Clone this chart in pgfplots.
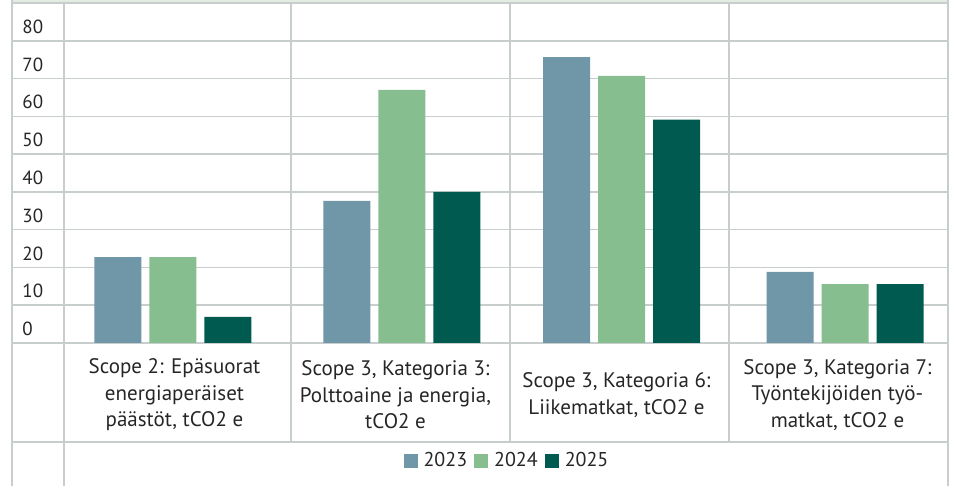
\documentclass[border=0pt]{standalone}
\usepackage{pgfplots}
\pgfplotsset{compat=1.18}
\usepackage{fontspec}
\setmainfont{PT Sans}
\definecolor{c23}{RGB}{111,151,168}
\definecolor{c24}{RGB}{134,190,144}
\definecolor{c25}{RGB}{0,90,80}
\definecolor{gridc}{RGB}{200,206,205}
\definecolor{txt}{RGB}{38,38,38}
\definecolor{topc}{RGB}{226,236,226}
\begin{document}
\begin{tikzpicture}
\begin{scope}[x=0.5pt,y=-0.5pt]
\path[use as bounding box] (0,0) rectangle (955,486);
\fill[topc] (12,0) rectangle (948,3);
\foreach \v in {0,...,9} \draw[gridc,line width=0.8pt] (12,{343-340/9*\v}) -- (948,{343-340/9*\v});
\draw[gridc,line width=0.8pt] (12,442) -- (948,442);
\draw[gridc,line width=0.8pt] (12,0) -- (12,486);
\draw[gridc,line width=0.8pt] (64,3) -- (64,486);
\foreach \x in {291,510,729} \draw[gridc,line width=0.8pt] (\x,3) -- (\x,442);
\draw[gridc,line width=0.8pt] (948,0) -- (948,486);
\end{scope}
\begin{axis}[
  at={(32pt,-171.5pt)}, anchor=south west,
  scale only axis, width=442pt, height=170pt,
  xmin=0, xmax=4, ymin=0, ymax=90,
  enlargelimits=false,
  axis line style={draw=none},
  major tick length=0pt,
  ybar=4pt, bar width=23.5pt,
  xtick={0.5,1.5,2.5,3.5},
  xticklabels={{Scope 2: Epäsuorat\\energiaperäiset\\päästöt, tCO2 e},{Scope 3, Kategoria 3:\\Polttoaine ja energia,\\tCO2 e},{Scope 3, Kategoria 6:\\Liikematkat, tCO2 e},{Scope 3, Kategoria 7:\\Työntekijöiden työ-\\matkat, tCO2 e}},
  xticklabel style={anchor=center, align=center, yshift=-26pt, text=txt, font={\fontsize{10.5pt}{13.25pt}\selectfont}},
  ytick={0,10,...,80},
  /pgf/number format/assume math mode=true,
  yticklabel style={anchor=west, inner sep=0pt, xshift=-21pt, yshift=7pt, text=txt, font={\fontsize{9.5pt}{11pt}\selectfont}},
  legend style={at={(0.5,-0.347)}, anchor=center, draw=none, fill=none, legend columns=-1,
    font={\fontsize{10pt}{12pt}\selectfont}, text=txt,
    nodes={inner sep=0pt},
    /tikz/every odd column/.append style={column sep=3pt},
    /tikz/every even column/.append style={column sep=3.5pt}},
  legend image code/.code={\fill[#1] (0pt,-3.5pt) rectangle (7pt,3.5pt);},
]
\addplot[fill=c23, draw=none] coordinates {(0.493,22.7) (1.529,37.6) (2.523,75.7) (3.534,18.8)};
\addplot[fill=c24, draw=none] coordinates {(0.493,22.7) (1.529,67.0) (2.523,70.7) (3.534,15.6)};
\addplot[fill=c25, draw=none] coordinates {(0.493,6.9) (1.529,40.0) (2.523,59.1) (3.534,15.6)};
\legend{2023,2024,2025}
\end{axis}
\end{tikzpicture}
\end{document}
